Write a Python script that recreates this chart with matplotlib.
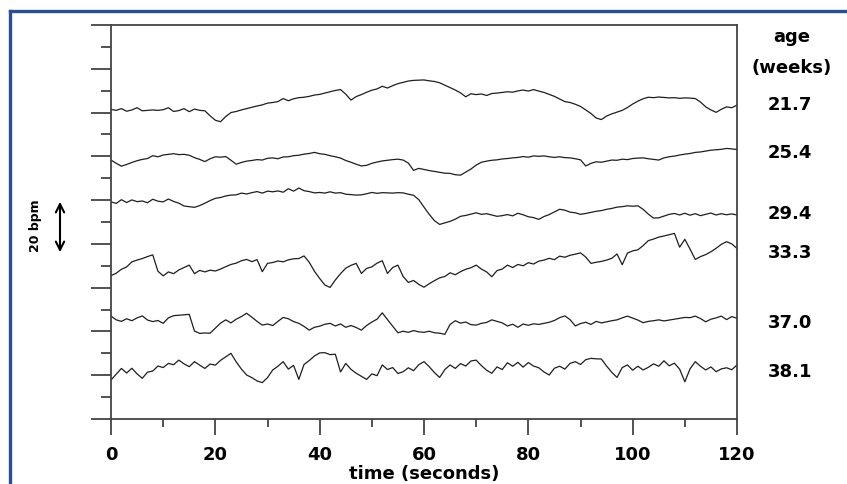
import numpy as np
import matplotlib
matplotlib.use('Agg')
import matplotlib.pyplot as plt
from matplotlib.lines import Line2D

# fetal heart rate traces, one value per second
# (vertical units are bpm, traces stacked with an offset)
time_s = np.arange(121)

hr_217 = [141.4, 141, 141.8, 140.6, 141.2, 142.2, 140.8, 141, 141.2, 141, 141.3, 142.2, 140.5, 140.9, 141.8, 140.4,
          141.6, 141, 140.8, 138.5, 136.5, 135.8, 138.2, 140, 140.5, 141.2, 141.8, 142.4, 143, 143.5, 144.3, 144.6,
          145, 146.4, 145.4, 146.3, 146.8, 147, 147.4, 148, 148.3, 148.9, 149.5, 150.1, 150.5, 148.4, 145.7, 147.3,
          148.2, 149.3, 150.2, 150.8, 152, 151.2, 152.3, 153.2, 153.8, 154.4, 154.7, 154.8, 154.9, 154.5, 154.2,
          153.6, 152.5, 151.4, 150.3, 149, 147.2, 148.6, 148.2, 148.5, 147.8, 148.7, 148.9, 149.2, 149.5, 149.3,
          149.9, 150.3, 149.8, 150.5, 149.8, 149.2, 148.3, 147.4, 146.2, 145, 144.6, 143.8, 142.8, 141.2, 139.6,
          137.5, 136.8, 138.4, 139.4, 140.2, 141, 142.3, 143.9, 145.2, 146.3, 147, 146.8, 147.1, 146.9, 146.7, 146.8,
          146.5, 146.7, 146.6, 146.4, 144.8, 142.6, 141.2, 140.1, 141.5, 142.6, 142.2, 143.4]

hr_254 = [118.3, 116.8, 115.5, 116.3, 117.2, 118, 118.6, 119, 120.3, 119.8, 120.6, 120.9, 121.2, 120.8, 120.9, 120.5,
          119.4, 118.6, 117.6, 118.9, 119.8, 119.6, 119.9, 118.2, 116.4, 117.2, 117.8, 118.1, 118.5, 118.3, 119.1,
          119.3, 118.9, 119.7, 119.8, 120.3, 120.5, 121, 121.3, 121.8, 121.2, 120.9, 120.3, 119.8, 119.2, 118.1,
          117.3, 116.4, 115.6, 115.9, 116.8, 117.4, 117.9, 118.2, 118.5, 118.7, 118.3, 116.9, 113.6, 114.5, 114,
          113.5, 113.1, 112.7, 112.3, 112.2, 111.6, 111.4, 112.8, 114.2, 116, 117.3, 117.8, 118.2, 118.4, 118.8, 119,
          119.3, 119.5, 119.9, 119.6, 120.2, 120, 120.2, 119.8, 119.5, 119.8, 119.4, 119.3, 118.9, 118.4, 115.6,
          116.8, 117.5, 117.3, 117.8, 118.3, 118.2, 118.7, 118.5, 119, 119.2, 119.3, 118.9, 118.6, 118.3, 119.3,
          119.8, 120.1, 120.6, 121, 121.3, 121.8, 122, 122.4, 122.8, 123, 123.2, 123.6, 123.4, 123.1]

hr_294 = [99.2, 98.5, 100.2, 98.9, 100.1, 99.3, 99.6, 98.8, 100.4, 99.5, 99.2, 100.5, 99.4, 98.6, 97.3, 97, 96.7,
          97.5, 98.6, 99.8, 100.8, 101.2, 101.9, 102.3, 102.4, 103.2, 102.8, 103.4, 103.9, 103.2, 104.1, 103.8,
          104.2, 103.6, 105.2, 104.1, 105.5, 104.3, 103.9, 103.3, 103.5, 103.2, 103.8, 103.2, 103.4, 102.7, 102.5,
          102.3, 102.4, 102.9, 103.5, 103.1, 103.4, 103.3, 103.2, 103.4, 103.3, 102.7, 102.2, 100.2, 96.8, 93.5,
          90.6, 88.9, 89.6, 90.3, 91.3, 92.6, 93, 93.6, 94.2, 93.5, 93.8, 93.2, 92.6, 92.9, 93.4, 92.8, 94, 93.3,
          92.4, 92, 91.2, 92.5, 93.4, 94.6, 95.8, 95.4, 94.5, 94.2, 93.5, 93.9, 94.4, 94.9, 95.2, 95.8, 96.2, 96.8,
          97, 97.4, 97.2, 97.4, 95.8, 93.6, 91.8, 91.9, 92.7, 93.5, 93.9, 93.2, 94, 93.1, 93.8, 92.9, 93.5, 94.1,
          93.2, 93.8, 93.3, 93.7, 93.2]

hr_333 = [65.5, 66.6, 68.4, 69.5, 71.8, 72.6, 73.3, 74.2, 75, 67.5, 65.4, 67.2, 66.4, 68.1, 69.2, 70.3, 66.4, 67.9,
          67.2, 68, 67.6, 68.5, 69.6, 70.6, 71.2, 72.3, 72.9, 71.9, 72.8, 67.3, 71.1, 71.5, 72.2, 71.8, 72.7, 73.2,
          73.3, 74.5, 71.6, 67.5, 64.2, 61.2, 60.1, 63.5, 66.4, 68.9, 70.2, 71.1, 66.5, 68.8, 69.5, 71.2, 72.3, 66.5,
          69.2, 70.3, 65.1, 62.4, 63.3, 61.5, 60.2, 61.8, 63.2, 64.5, 65.1, 66.8, 65.9, 67.3, 68.4, 69.1, 70.3,
          68.5, 67.2, 65, 67.8, 68.5, 70.3, 69.2, 70.6, 70, 71.4, 70.8, 72.1, 72.6, 73.4, 72.8, 74.4, 73.9, 74.8,
          75.3, 75.9, 74, 71.1, 71.6, 72, 72.6, 73.4, 75.4, 70.5, 75.8, 76.8, 77.3, 79.2, 81.5, 82.2, 83.1, 83.6,
          84.2, 84.8, 78.5, 82.1, 77.6, 72.9, 74.2, 75.1, 76.4, 78, 79.8, 81, 80, 77.9]

hr_370 = [47, 45.3, 44.6, 45.8, 44.9, 46.2, 47.1, 45.2, 44.5, 45, 43.7, 46.2, 47.2, 47.4, 47.6, 47.8, 40.2, 39.1,
          39.3, 39.2, 41.5, 43.8, 45.3, 43.9, 45.6, 46.8, 48.3, 46.5, 44.6, 42.9, 43.4, 42.7, 44.6, 46.4, 45.8,
          44.5, 43.7, 42.3, 40.6, 41.9, 42.4, 43.3, 43.7, 42.5, 43.4, 41.9, 42.7, 41.8, 40.6, 42.7, 44.3, 45.6,
          48.5, 45.4, 42.4, 39.4, 40.1, 39.6, 40.4, 39.8, 39.6, 40.1, 39.4, 39.2, 38.7, 43.2, 44.9, 43.8, 44.3,
          43.1, 42.9, 43.7, 44.1, 45.3, 44.6, 43.9, 42.5, 43.3, 41.9, 43.4, 42.8, 43.5, 43.2, 43.7, 44.2, 45, 46.3,
          47.1, 45.4, 42.5, 43.6, 44.2, 43.2, 44.6, 43.9, 44.4, 44.9, 45.3, 46.2, 47, 46.1, 45.2, 44, 44.6, 44.9,
          45.3, 44.8, 45.2, 45.6, 46, 46.4, 46.3, 47, 45.9, 44.4, 45.6, 46.2, 47, 45.4, 46.8, 46]

hr_381 = [17.8, 20.5, 23.1, 21, 23.2, 20.6, 18.6, 21.4, 21.9, 24.2, 23.5, 25.4, 24.8, 26.9, 25.2, 23.9, 26.2, 24.6,
          23.1, 25.1, 24.6, 26.8, 28.4, 30, 26.1, 22.8, 20.1, 18.9, 17.4, 16.6, 18.9, 22.4, 24.1, 26.2, 22.8, 24.5,
          18.1, 24.9, 26.7, 28.8, 30.2, 30.3, 29.4, 29.6, 21.5, 25.4, 22.7, 20.9, 19.5, 18.1, 20.6, 19.8, 24.7,
          22.6, 23.5, 20.8, 21.6, 23.4, 22.1, 24.8, 26.2, 23.9, 21.2, 19, 22.6, 24.7, 23.1, 25.3, 24.2, 26.5, 26.9,
          24.4, 22.3, 20.9, 23.8, 22.6, 25.7, 24.1, 25.9, 23.7, 25.8, 24.2, 23.4, 21.5, 20.1, 23.2, 24.1, 22.8,
          25.4, 26.2, 24.9, 27.1, 27.7, 27.5, 27.4, 24.2, 21.3, 19, 23.5, 24.7, 22.3, 24.1, 22.4, 23.6, 25.2, 24.1,
          26.6, 24.3, 25.5, 22.8, 17, 22.9, 26.2, 24.1, 22.4, 23.8, 21.6, 22.9, 23.4, 22.5, 24.7]

traces = [hr_217, hr_254, hr_294, hr_333, hr_370, hr_381]
ages = ['21.7', '25.4', '29.4', '33.3', '37.0', '38.1']

W, H = 847, 484
age_y_px = [105, 153, 214, 253, 323, 372]

fig = plt.figure(figsize=(W / 100, H / 100), dpi=100)
ax = fig.add_axes([111 / W, 65 / H, 626 / W, 394 / H])

for tr in traces:
    ax.plot(time_s, tr, color='#1e1e1e', lw=0.9)

ax.set_xlim(0, 120)
ax.set_ylim(0, 180)
ax.set_xticks(range(0, 121, 20))
ax.set_xticks(range(10, 120, 20), minor=True)
ax.set_yticks(range(0, 181, 20))
ax.set_yticks(range(10, 180, 20), minor=True)
ax.set_yticklabels([])

spine_c = '#444444'
for s in ax.spines.values():
    s.set_color(spine_c)
    s.set_linewidth(1.3)

ax.tick_params(axis='x', which='major', direction='out', length=11.5, width=1.3, color=spine_c,
               labelsize=13, pad=8)
ax.tick_params(axis='x', which='minor', direction='out', length=5.8, width=1.3, color=spine_c)
ax.tick_params(axis='y', which='major', direction='out', length=14.4, width=1.3, color=spine_c)
ax.tick_params(axis='y', which='minor', direction='out', length=7.2, width=1.3, color=spine_c)
for lbl in ax.get_xticklabels():
    lbl.set_fontweight('bold')
ax.set_xlabel('time (seconds)', fontsize=13, fontweight='bold', labelpad=1)

# labels on the right
fig.text(792 / W, 1 - 37 / H, 'age', ha='center', va='center', fontsize=13, fontweight='bold')
fig.text(792 / W, 1 - 68 / H, '(weeks)', ha='center', va='center', fontsize=13, fontweight='bold')
for a, ypx in zip(ages, age_y_px):
    fig.text(790 / W, 1 - ypx / H, a, ha='center', va='center', fontsize=13, fontweight='bold')

# 20 bpm scale arrow
ax.annotate('', xy=(60 / W, 1 - 199 / H), xytext=(60 / W, 1 - 255 / H), xycoords='figure fraction',
            arrowprops=dict(arrowstyle='<->', lw=1.5, color='black', mutation_scale=15))
fig.text(35 / W, 1 - 226 / H, '20 bpm', rotation=90, ha='center', va='center', fontsize=9, fontweight='bold')

# blue frame (left and top edges are the only ones visible)
frame_c = '#2a4e8e'
fig.add_artist(Line2D([10 / W, 10 / W], [0, 1 - 11 / H], transform=fig.transFigure, color=frame_c, lw=2.4))
fig.add_artist(Line2D([10 / W, 1], [1 - 11 / H, 1 - 11 / H], transform=fig.transFigure, color=frame_c, lw=2.4))

fig.savefig('out.png', dpi=100)
